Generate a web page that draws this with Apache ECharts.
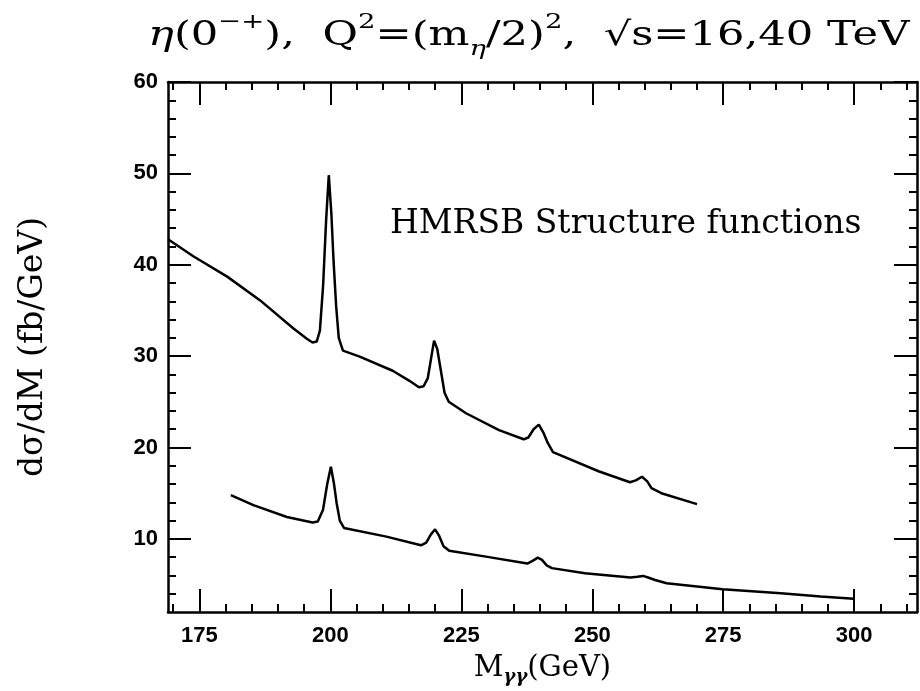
<!DOCTYPE html>
<html>
<head>
<meta charset="utf-8">
<script src="https://cdn.jsdelivr.net/npm/echarts@6/dist/echarts.min.js"></script>
<style>
  html, body { margin: 0; padding: 0; background: #fff; }
  #main { width: 920px; height: 691px; }
</style>
</head>
<body>
<div id="main"></div>
<script>
// upper curve (sqrt s = 40 TeV)
var upperMass = [169, 173.9, 180.3, 186.6, 192.9, 195.5, 196.6, 197.4, 198.0, 198.6, 199.2, 199.7, 200.2, 200.6, 201.1, 201.6, 202.4, 205.6, 211.9, 215.1, 216.9, 217.8, 218.6, 219.3, 219.8, 220.4, 221.1, 221.8, 222.6, 225.9, 232.2, 236.9, 237.8, 238.8, 239.8, 240.7, 241.5, 242.5, 251.2, 257.2, 258.3, 259.5, 260.5, 261.3, 263.2, 270.0];
var upperXsec = [42.8, 40.9, 38.7, 36.1, 33.05, 31.9, 31.5, 31.6, 32.8, 37.6, 45, 49.8, 45.5, 40.5, 35.5, 32.0, 30.6, 29.95, 28.4, 27.3, 26.6, 26.7, 27.6, 30, 31.7, 30.8, 28.4, 26.0, 25.0, 23.75, 21.9, 20.9, 21.1, 22.0, 22.5, 21.6, 20.5, 19.5, 17.4, 16.2, 16.4, 16.8, 16.3, 15.55, 15.0, 13.8];
// lower curve (sqrt s = 16 TeV)
var lowerMass = [181.0, 185.3, 191.7, 196.6, 197.6, 198.6, 199.4, 200.1, 200.7, 201.2, 201.8, 202.6, 210.7, 217.3, 218.3, 219.2, 220.0, 220.8, 221.6, 222.7, 229.7, 237.6, 238.6, 239.6, 240.4, 241.3, 242.3, 248.6, 257.3, 258.6, 259.7, 260.8, 262.0, 264.2, 274.9, 286.0, 293.6, 299.9];
var lowerXsec = [14.8, 13.7, 12.4, 11.8, 11.9, 13.2, 16, 17.9, 16, 13.9, 12.0, 11.2, 10.25, 9.3, 9.6, 10.5, 11.05, 10.3, 9.2, 8.7, 8.06, 7.3, 7.6, 7.95, 7.7, 7.1, 6.8, 6.25, 5.77, 5.85, 5.95, 5.75, 5.5, 5.15, 4.5, 4.05, 3.7, 3.44];

var xMajor = [175, 200, 225, 250, 275, 300];
var xMinor = [170, 180, 185, 190, 195, 205, 210, 215, 220, 230, 235, 240, 245, 255, 260, 265, 270, 280, 285, 290, 295, 305, 310];
var yMajor = [10, 20, 30, 40, 50, 60];
var yMinor = [4, 6, 8, 12, 14, 16, 18, 22, 24, 26, 28, 32, 34, 36, 38, 42, 44, 46, 48, 52, 54, 56, 58];

function pairs(xs, ys) {
  return xs.map(function (x, i) { return [x, ys[i]]; });
}

var serif = '"DejaVu Serif", "Liberation Serif", serif';
var lineStyle = { color: '#000', width: 2.5 };
var tickFont = { color: '#000', fontFamily: '"Liberation Sans", Arial, sans-serif', fontWeight: 'bold', fontSize: 22 };

function xAx(pos, ticks, len, labels, line) {
  return {
    type: 'value', position: pos, min: 169, max: 312,
    axisLine: { show: line, onZero: false, lineStyle: lineStyle },
    axisTick: { show: true, inside: true, length: len, customValues: ticks, lineStyle: { color: '#000', width: 2 } },
    axisLabel: labels ? Object.assign({ customValues: xMajor, margin: 13 }, tickFont) : { show: false },
    splitLine: { show: false }
  };
}
function yAx(pos, ticks, len, labels, line) {
  return {
    type: 'value', position: pos, min: 2, max: 60,
    axisLine: { show: line, onZero: false, lineStyle: lineStyle },
    axisTick: { show: true, inside: true, length: len, customValues: ticks, lineStyle: { color: '#000', width: 2 } },
    axisLabel: labels ? Object.assign({ customValues: yMajor, margin: 10 }, tickFont) : { show: false },
    splitLine: { show: false }
  };
}

var xs = [xAx('bottom', xMajor, 23, true, true), xAx('bottom', xMinor, 8, false, false),
          xAx('top', xMajor, 23, false, true), xAx('top', xMinor, 8, false, false)];
xs[0].name = '{m|M}{s|γγ}{m|(GeV)}';
xs[0].nameLocation = 'middle';
xs[0].nameGap = 38;
xs[0].nameTextStyle = {
  rich: {
    m: { fontFamily: serif, fontSize: 29, color: '#000', lineHeight: 36, verticalAlign: 'middle' },
    s: { fontFamily: serif, fontSize: 18, color: '#000', fontStyle: 'italic', fontWeight: 'bold', lineHeight: 22, verticalAlign: 'bottom' }
  }
};

var ys = [yAx('left', yMajor, 23, true, true), yAx('left', yMinor, 8, false, false),
          yAx('right', yMajor, 23, false, true), yAx('right', yMinor, 8, false, false)];
ys[0].name = 'dσ/dM (fb/GeV)';
ys[0].nameLocation = 'middle';
ys[0].nameGap = 118;
ys[0].nameTextStyle = { fontFamily: serif, fontSize: 33, color: '#000' };

var myChart = echarts.init(document.getElementById('main'), null, { renderer: 'canvas' });

var option = {
  backgroundColor: '#fff',
  animation: false,
  grid: { left: 168, right: 3, top: 82, bottom: 79, containLabel: false },
  xAxis: xs,
  yAxis: ys,
  graphic: [{
    // title, stretched sideways like the wide typewriter face of the original
    type: 'text', x: 148, y: 12, scaleX: 1.31, scaleY: 1,
    style: {
      text: '{e|η}{t|(0}{p|−+}{t|),  Q}{p|2}{t|=(m}{b|η}{t|/2)}{p|2}{t|,  √s=16,40 TeV}',
      align: 'left', verticalAlign: 'top',
      rich: {
        t: { fontFamily: serif, fontSize: 33, fill: '#000', lineHeight: 48, verticalAlign: 'middle' },
        e: { fontFamily: serif, fontSize: 33, fill: '#000', fontStyle: 'italic', lineHeight: 48, verticalAlign: 'middle' },
        p: { fontFamily: serif, fontSize: 21, fill: '#000', lineHeight: 36, verticalAlign: 'top' },
        b: { fontFamily: serif, fontSize: 21, fill: '#000', fontStyle: 'italic', lineHeight: 30, verticalAlign: 'bottom' }
      }
    }
  }, {
    type: 'text', left: 390, top: 208,
    style: { text: 'HMRSB Structure functions', font: '33px ' + serif, fill: '#000' }
  }],
  series: [
    { type: 'line', data: pairs(upperMass, upperXsec), showSymbol: false, smooth: false,
      lineStyle: { color: '#000', width: 2.5 }, xAxisIndex: 0, yAxisIndex: 0 },
    { type: 'line', data: pairs(lowerMass, lowerXsec), showSymbol: false, smooth: false,
      lineStyle: { color: '#000', width: 2.5 }, xAxisIndex: 0, yAxisIndex: 0 }
  ]
};

myChart.setOption(option);
</script>
</body>
</html>
